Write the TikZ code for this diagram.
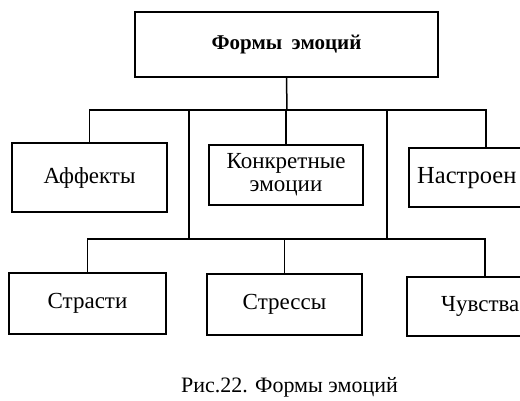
\documentclass[tikz,border=0pt]{standalone}
\usepackage{fontspec}
\setmainfont{Liberation Serif}
\begin{document}
\begin{tikzpicture}[x=1pt,y=-1pt,
  txt/.style={font=\fontsize{23}{23}\selectfont},
  box/.style={draw, line width=1.5pt, rectangle, inner sep=0pt, align=center, txt},
  conn/.style={line width=1.5pt}]
\useasboundingbox (0,0) rectangle (520,400);
\clip (0,0) rectangle (520,400);
\node[box, minimum width=303pt, minimum height=65pt, font=\fontsize{21}{23}\selectfont\bfseries] (top) at (286.5,44.5) {Формы\hspace{0.45em}эмоций};
\node[box, minimum width=155pt, minimum height=69pt] (aff) at (89.5,177.5) {Аффекты};
\node[box, minimum width=154pt, minimum height=60pt] (kon) at (286,175) {Конкретные\\эмоции};
\node[box, minimum width=154pt, minimum height=59pt] (nas) at (486,177.5) {};
\node[anchor=west, inner sep=0pt, font=\fontsize{24.5}{24}\selectfont] (nastext) at (417,178) {Настроен};
\node[box, minimum width=157pt, minimum height=61pt] (str) at (87.5,303.5) {Страсти};
\node[box, minimum width=155pt, minimum height=61pt] (stre) at (284.5,304.5) {Стрессы};
\node[box, minimum width=156pt, minimum height=59pt] (chu) at (485,306.5) {};
\node[anchor=east, inner sep=0pt, txt] (chutext) at (519.5,306.5) {Чувства};
\node[anchor=base, inner sep=0pt, font=\fontsize{22}{23}\selectfont] (cap) at (289.5,392) {Рис.22. Формы эмоций};
\coordinate (j1) at (287,110);
\coordinate (u1) at (189,110);
\coordinate (u2) at (387,110);
\coordinate (l1) at (189,239);
\coordinate (l2) at (387,239);
\draw[conn] (top.south) -- (j1);
\draw[conn] (aff.north) -- (aff.north |- j1) -- (nas.north |- j1) -- (nas.north);
\draw[conn] (kon.north) -- (kon.north |- j1);
\draw[conn] (u1) -- (l1);
\draw[conn] (u2) -- (l2);
\draw[conn] (str.north) -- (str.north |- l1) -- (chu.north |- l1) -- (chu.north);
\draw[conn] (stre.north) -- (stre.north |- l1);
\end{tikzpicture}
\end{document}
